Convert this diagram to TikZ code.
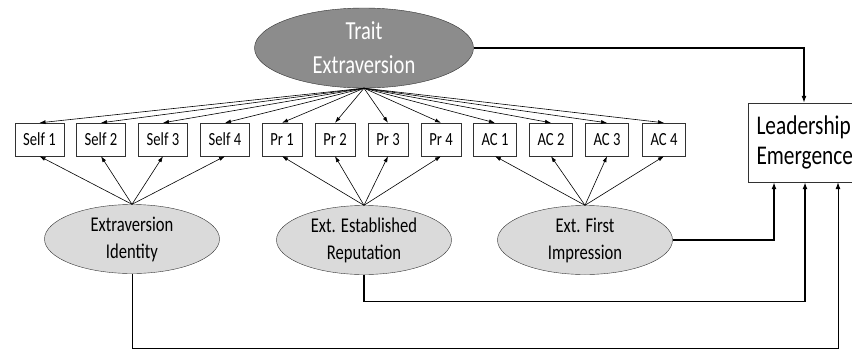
\documentclass[tikz,border=0pt]{standalone}
\usepackage{fontspec}
\setmainfont{Carlito}[FakeStretch=0.79]
\usepackage{tikz}
\usetikzlibrary{shapes.geometric,arrows.meta}
\definecolor{darkfill}{RGB}{140,140,140}
\definecolor{lightfill}{RGB}{218,218,218}
\definecolor{linegray}{RGB}{50,50,50}

\begin{document}
\begin{tikzpicture}
		[
			x=1pt, y=-1pt,
			trait/.style = {ellipse, align=center, draw=linegray, fill=darkfill, text=white, minimum width=219pt, minimum height=80pt, inner sep=0pt, font=\fontsize{26}{34}\selectfont},
			factor/.style = {ellipse, align=center, draw=linegray, fill=lightfill, minimum width=175pt, minimum height=69pt, inner sep=0pt, font=\fontsize{21}{27}\selectfont},
			ind/.style = {rectangle, draw=linegray, fill=white, minimum height=33pt, inner sep=0pt, font=\fontsize{18.5}{20}\selectfont},
			selfbox/.style = {ind, minimum width=49pt},
			prbox/.style = {ind, minimum width=40pt},
			acbox/.style = {ind, minimum width=43pt},
			outcome/.style = {rectangle, draw=linegray, fill=white, minimum width=112pt, minimum height=79pt, inner sep=0pt, text width=95pt, align=left, font=\fontsize{27}{30}\selectfont},
			load/.style = {draw=black, line width=0.6pt, -{Latex[length=6pt,width=4pt]}},
			pred/.style = {draw=black, line width=1.4pt, -{Latex[length=7pt,width=5pt]}},
		]
		\clip (0,0) rectangle (852,349);

		% latent factors
		\node[trait] (trait) 	at ( 364,  48 ) {Trait\\Extraversion};
		\node[factor] (ident) 	at ( 132, 239 ) {Extraversion\\Identity};
		\node[factor] (rep) 	at ( 364, 240 ) {Ext. Established\\Reputation};
		\node[factor] (first) 	at ( 585, 240 ) {Ext. First\\Impression};

		% indicators
		\node[selfbox] (s1) 	at (  39.5, 139.5 ) {Self 1};
		\node[selfbox] (s2) 	at ( 101,   139.5 ) {Self 2};
		\node[selfbox] (s3) 	at ( 163,   139.5 ) {Self 3};
		\node[selfbox] (s4) 	at ( 225,   139.5 ) {Self 4};
		\node[prbox] (p1) 	at ( 282,   139.5 ) {Pr 1};
		\node[prbox] (p2) 	at ( 335,   139.5 ) {Pr 2};
		\node[prbox] (p3) 	at ( 388,   139.5 ) {Pr 3};
		\node[prbox] (p4) 	at ( 441,   139.5 ) {Pr 4};
		\node[acbox] (a1) 	at ( 495,   139.5 ) {AC 1};
		\node[acbox] (a2) 	at ( 551,   139.5 ) {AC 2};
		\node[acbox] (a3) 	at ( 607,   139.5 ) {AC 3};
		\node[acbox] (a4) 	at ( 664,   139.5 ) {AC 4};

		% outcome
		\node[outcome] (lead) 	at ( 804, 142.5 ) {Leadership\\Emergence};

		\foreach \to in {s1,s2,s3,s4,p1,p2,p3,p4,a1,a2,a3,a4}
		\draw[load] (trait.south) -- (\to.north);

		\foreach \from/\to in {ident/s1,ident/s2,ident/s3,ident/s4,rep/p1,rep/p2,rep/p3,rep/p4,first/a1,first/a2,first/a3,first/a4}
		\draw[load] (\from.north) -- (\to.south);

		% paths to leadership
		\draw[pred, line width=1.2pt] (trait.east) -| (lead.north);
		\draw[pred] (first.east) -| ([xshift=-30pt]lead.south);
		\draw[pred] (rep.south) -- ++(0,27) -| ([xshift=1pt]lead.south);
		\draw[pred, line width=0.9pt] (ident.south) -- ++(0,75) -| ([xshift=34pt]lead.south);

		\end{tikzpicture}
\end{document}
